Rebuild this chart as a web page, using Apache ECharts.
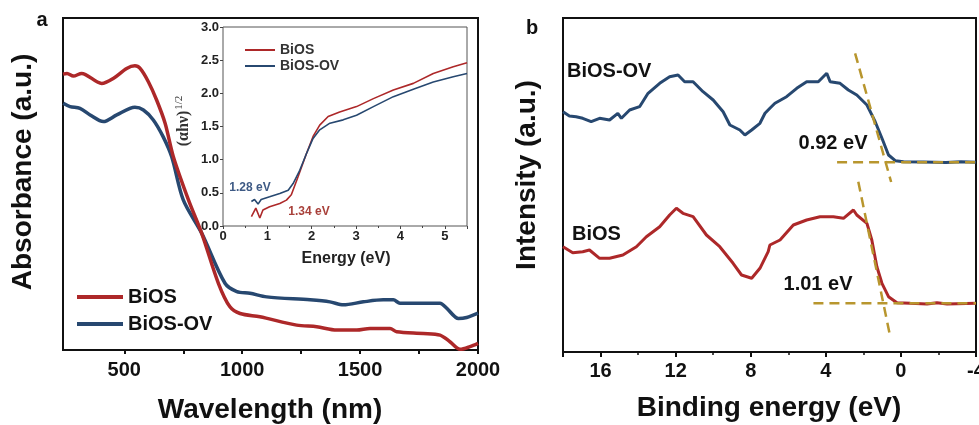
<!DOCTYPE html>
<html>
<head>
<meta charset="utf-8">
<script src="https://cdn.jsdelivr.net/npm/echarts@6/dist/echarts.min.js"></script>
<style>
  html, body { margin: 0; padding: 0; background: #fff; }
  #main { width: 979px; height: 425px; }
</style>
</head>
<body>
<div id="main"></div>
<script>
// ---- panel a: UV-vis-NIR absorbance, [wavelength nm, absorbance a.u.] ----
const uvBiOS = [[240,83.1],[257,83.3],[284,82.5],[319,83.3],[404,80.3],[453,81.8],[510,84.8],[545,85.6],[567,84.8],[602,80.8],[637,75.3],[673,68.3],[708,58.2],[772,45.2],[828,35.2],[899,20.1],[948,13.0],[991,11.0],[1075,10.0],[1231,7.5],[1316,7.0],[1401,6.0],[1486,6.0],[1542,6.5],[1627,6.5],[1655,5.5],[1768,5.0],[1839,4.5],[1881,2.5],[1924,0.2],[1966,1.0],[2000,2.0]];
const uvBiOSOV = [[241,74.3],[270,73.3],[312,72.8],[355,70.8],[411,68.8],[468,70.8],[545,73.1],[581,72.3],[623,69.3],[665,64.2],[701,58.2],[750,45.2],[828,35.2],[927,20.1],[977,17.6],[1033,17.1],[1104,16.0],[1288,15.1],[1372,14.5],[1429,13.6],[1514,14.5],[1598,15.1],[1641,15.1],[1669,14.1],[1839,14.1],[1867,12.6],[1917,9.5],[1952,9.8],[2000,11.1]];
const uvTicks = [500, 750, 1000, 1250, 1500, 1750, 2000];
const uvLabels = [500, 1000, 1500, 2000];

// ---- inset: Tauc plot, [energy eV, (ahv)^1/2] ----
const taucBiOS = [[0.64,0.14],[0.74,0.27],[0.83,0.12],[0.90,0.24],[1.05,0.29],[1.28,0.34],[1.43,0.39],[1.54,0.47],[1.69,0.74],[1.88,1.09],[2.03,1.35],[2.18,1.52],[2.37,1.65],[2.63,1.72],[3.01,1.80],[3.39,1.92],[3.84,2.05],[4.29,2.15],[4.74,2.30],[5.19,2.40],[5.5,2.46]];
const taucBiOSOV = [[0.64,0.37],[0.71,0.40],[0.79,0.33],[0.86,0.40],[1.05,0.44],[1.28,0.49],[1.47,0.54],[1.58,0.64],[1.73,0.84],[1.88,1.09],[2.03,1.32],[2.18,1.45],[2.41,1.55],[2.71,1.60],[3.01,1.67],[3.39,1.80],[3.84,1.95],[4.29,2.06],[4.74,2.17],[5.19,2.25],[5.5,2.30]];

// ---- panel b: valence band XPS, [binding energy eV, intensity a.u.] ----
const vbBiOSOV = [[18.0,240.3],[17.66,236],[17.30,235.3],[16.95,233.7],[16.50,230.3],[16.05,233.7],[15.52,232],[15.08,238.7],[14.89,233.7],[14.45,242],[13.92,245.3],[13.47,258.7],[12.85,268.7],[12.32,275.3],[11.87,277],[11.52,270.3],[11.07,270.3],[10.54,260.3],[10.00,252],[9.47,240.3],[9.11,227],[8.58,222],[8.31,217],[7.95,222],[7.51,228.7],[7.24,238.7],[6.98,243.7],[6.71,248.7],[6.09,255.3],[5.55,263.7],[5.02,270.3],[4.40,270.3],[3.95,278.7],[3.77,270.3],[3.24,268.7],[2.80,262],[2.35,257],[1.81,247],[1.37,230.3],[1.01,213.7],[0.66,197],[0.30,191.3],[-0.14,190.3],[-1.2,190.0],[-2.4,189.4],[-3.2,190.2],[-4.0,189.7]];
const vbBiOS = [[18.0,105.3],[17.48,99.3],[16.95,100.3],[16.59,102],[16.05,93.7],[15.52,93.7],[14.81,97],[14.09,105.3],[13.56,115.3],[12.85,125.3],[12.32,137],[11.96,143.7],[11.61,138.7],[11.07,135.3],[10.36,117],[9.65,105.3],[8.94,88.7],[8.49,77],[7.95,73.7],[7.51,83.7],[7.07,100.3],[6.98,107],[6.44,112],[5.73,127],[5.02,132],[4.31,135.3],[3.60,135.3],[3.06,133.7],[2.53,142],[2.35,137],[1.81,128.7],[1.55,112],[1.28,85.3],[1.01,68.7],[0.66,55.3],[0.21,49.3],[-0.50,48.7],[-1.39,48],[-1.92,49.3],[-2.46,48],[-4.0,48.7]];
// tangent / baseline construction lines
const fitOVSlope = [[2.44,298.7],[0.52,170]];
const fitOVBase = [[3.40,189.7],[-4.0,189.7]];
const fitBiOSSlope = [[2.27,170.3],[0.57,15.3]];
const fitBiOSBase = [[4.66,48.7],[-4.0,48.7]];

const FONT = '"Liberation Sans", Arial, sans-serif';
const RED = '#AD2829';
const BLUE = '#274870';
const GOLD = '#B8962E';
const INK = '#111';

const chart = echarts.init(document.getElementById('main'));

function txt(x, y, text, size, color, extra, align) {
  return Object.assign({
    type: 'text', x: x, y: y, z: 10,
    style: { text: text, fontSize: size, fontWeight: 'bold', fontFamily: FONT, fill: color, align: align || 'center', verticalAlign: 'middle' }
  }, extra || {});
}

const dash = (data) => ({
  type: 'line', xAxisIndex: 2, yAxisIndex: 2, data: data, showSymbol: false, silent: true, z: 5,
  lineStyle: { color: GOLD, width: 2.5, type: [10, 6] }
});

chart.setOption({
  backgroundColor: '#fff',
  animation: false,
  grid: [
    { left: 63, top: 18, width: 415, height: 332, show: true, borderColor: INK, borderWidth: 2, outerBoundsMode: 'none' },
    { left: 223, top: 27, width: 244, height: 199, show: true, borderColor: '#555', borderWidth: 1, outerBoundsMode: 'none' },
    { left: 563, top: 18, width: 413, height: 334, show: true, borderColor: INK, borderWidth: 2, outerBoundsMode: 'none' }
  ],
  xAxis: [
    {
      gridIndex: 0, type: 'value', min: 240, max: 2000,
      axisLine: { show: false }, splitLine: { show: false },
      axisTick: { show: true, customValues: uvTicks, length: 4, lineStyle: { color: INK, width: 2 } },
      axisLabel: { customValues: uvLabels, formatter: v => String(v), margin: 10, fontSize: 20, fontWeight: 'bold', color: INK, fontFamily: FONT }
    },
    {
      gridIndex: 1, type: 'value', min: 0, max: 5.5, interval: 1,
      axisLine: { show: false }, splitLine: { show: false },
      axisTick: { length: 3, lineStyle: { color: '#444' } },
      minorTick: { show: true, splitNumber: 2, length: 2, lineStyle: { color: '#444' } },
      axisLabel: { showMaxLabel: false, margin: 4, fontSize: 13, fontWeight: 'bold', color: '#222', fontFamily: FONT }
    },
    {
      gridIndex: 2, type: 'value', min: -4, max: 18, interval: 4, inverse: true,
      axisLine: { show: false }, splitLine: { show: false },
      axisTick: { length: 5, lineStyle: { color: INK, width: 2 } },
      minorTick: { show: true, splitNumber: 2, length: 3, lineStyle: { color: INK, width: 1.5 } },
      axisLabel: { showMaxLabel: false, margin: 9, fontSize: 20, fontWeight: 'bold', color: INK, fontFamily: FONT }
    }
  ],
  yAxis: [
    { gridIndex: 0, type: 'value', min: 0, max: 100, show: false },
    {
      gridIndex: 1, type: 'value', min: 0, max: 3, interval: 0.5,
      axisLine: { show: false }, splitLine: { show: false },
      axisTick: { show: true, length: 3, lineStyle: { color: '#444' } },
      axisLabel: { margin: 4, fontSize: 13, fontWeight: 'bold', color: '#222', fontFamily: FONT, formatter: v => v.toFixed(1) }
    },
    { gridIndex: 2, type: 'value', min: 0, max: 334, show: false }
  ],
  legend: [
    {
      data: ['BiOS', 'BiOS-OV'], orient: 'vertical', left: 72, top: 282,
      itemWidth: 46, itemHeight: 4, itemGap: 7, icon: 'rect', selectedMode: false,
      textStyle: { fontSize: 20, fontWeight: 'bold', color: INK, fontFamily: FONT }
    },
    {
      data: ['BiOS', 'BiOS-OV'], orient: 'vertical', left: 240, top: 38,
      itemWidth: 30, itemHeight: 2, itemGap: 2, icon: 'rect', selectedMode: false,
      textStyle: { fontSize: 14, fontWeight: 'bold', color: '#333', fontFamily: FONT }
    }
  ],
  series: [
    { name: 'BiOS-OV', type: 'line', xAxisIndex: 0, yAxisIndex: 0, data: uvBiOSOV, showSymbol: false, smooth: 0.3, color: BLUE, lineStyle: { width: 3.5 } },
    { name: 'BiOS', type: 'line', xAxisIndex: 0, yAxisIndex: 0, data: uvBiOS, showSymbol: false, smooth: 0.3, color: RED, lineStyle: { width: 3.5 } },
    { name: 'BiOS', type: 'line', xAxisIndex: 1, yAxisIndex: 1, data: taucBiOS, showSymbol: false, color: RED, lineStyle: { width: 1.6 } },
    { name: 'BiOS-OV', type: 'line', xAxisIndex: 1, yAxisIndex: 1, data: taucBiOSOV, showSymbol: false, color: BLUE, lineStyle: { width: 1.6 } },
    { name: 'BiOS-OV', type: 'line', xAxisIndex: 2, yAxisIndex: 2, data: vbBiOSOV, showSymbol: false, color: BLUE, lineStyle: { width: 3 } },
    { name: 'BiOS', type: 'line', xAxisIndex: 2, yAxisIndex: 2, data: vbBiOS, showSymbol: false, color: RED, lineStyle: { width: 3 } },
    dash(fitOVSlope), dash(fitOVBase), dash(fitBiOSSlope), dash(fitBiOSBase)
  ],
  graphic: [
    txt(42, 20, 'a', 20, INK),
    txt(532, 28, 'b', 20, INK),
    txt(270, 410, 'Wavelength (nm)', 28, INK),
    txt(23, 172, 'Absorbance (a.u.)', 28, INK, { rotation: Math.PI / 2 }),
    txt(769, 408, 'Binding energy (eV)', 28, INK),
    txt(527, 175, 'Intensity (a.u.)', 28, INK, { rotation: Math.PI / 2 }),
    txt(346, 259, 'Energy (eV)', 16, '#222'),
    {
      type: 'text', x: 184, y: 121, rotation: Math.PI / 2, z: 10,
      style: {
        text: '{a|(αhν)}{b|1/2}', align: 'center', verticalAlign: 'middle', fill: '#333',
        rich: {
          a: { fontSize: 16, fontWeight: 'bold', fontFamily: '"Liberation Serif", serif', fill: '#333' },
          b: { fontSize: 11, fontFamily: '"Liberation Serif", serif', fill: '#333', padding: [0, 0, 9, 1] }
        }
      }
    },
    txt(250, 188, '1.28 eV', 12, '#3E5A85'),
    txt(309, 211.5, '1.34 eV', 12, '#A8403A'),
    txt(567, 71.5, 'BiOS-OV', 20, INK, null, 'left'),
    txt(572, 234, 'BiOS', 20, INK, null, 'left'),
    txt(833, 143, '0.92 eV', 20, INK),
    txt(818, 284, '1.01 eV', 20, INK)
  ]
});
</script>
</body>
</html>
